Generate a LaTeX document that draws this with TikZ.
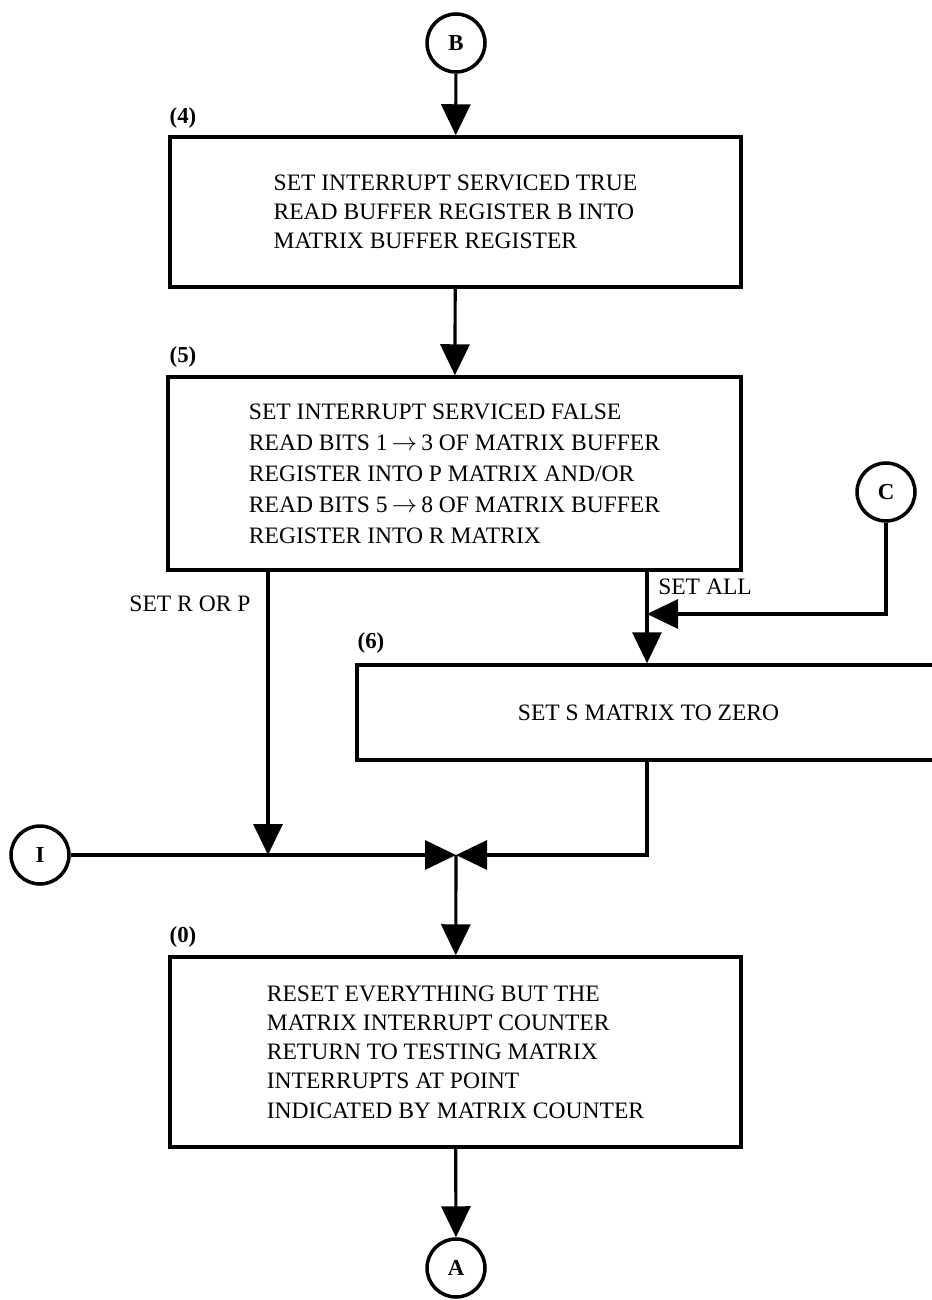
\documentclass[tikz,border=0pt]{standalone}
\usepackage{fontspec}
\setmainfont{Liberation Serif}
\usetikzlibrary{arrows.meta,positioning}
\begin{document}
\begin{tikzpicture}[x=0.02cm, y=-0.02cm,
		>={Triangle[length=0.62cm,width=0.58cm]},
		every node/.style={font=\fontsize{13.4}{16.6}\selectfont},
		box/.style={draw, line width=2pt, align=left, inner sep=0pt},
		conn/.style={->, line width=1.8pt},
		onpage/.style={draw, circle, line width=2pt, minimum size=1.16cm, inner sep=0pt,
			font=\bfseries\fontsize{13}{15}\selectfont},
		num/.style={font=\bfseries\fontsize{13}{15}\selectfont}]

	\useasboundingbox (0,0) rectangle (931,1300);

	% Connectors
	\node[onpage] (B) at (456,43) {B};
	\node[onpage] (C) at (886,492) {C};
	\node[onpage] (I) at (40,855) {I};
	\node[onpage] (A) at (456,1268) {A};

	% Blocks
	\node[box, minimum width=11.42cm, minimum height=3cm] (b4) at (455.5,212) {%
		SET INTERRUPT SERVICED TRUE\\
		READ BUFFER REGISTER B INTO\\
		MATRIX BUFFER REGISTER};
	\node[box, minimum width=11.46cm, minimum height=3.86cm,
		font=\fontsize{13.4}{17.6}\selectfont] (b5) at (454.5,473.5) {%
		SET INTERRUPT SERVICED FALSE\\
		READ BITS 1$\,\to\,$3 OF MATRIX BUFFER\\
		REGISTER INTO P MATRIX AND/OR\\
		READ BITS 5$\,\to\,$8 OF MATRIX BUFFER\\
		REGISTER INTO R MATRIX};
	\node[box, minimum width=11.66cm, minimum height=1.9cm] (b6) at (648.5,712.5) {SET S MATRIX TO ZERO};
	\node[box, minimum width=11.42cm, minimum height=3.8cm] (b0) at (455.5,1052) {%
		RESET EVERYTHING BUT THE\\
		MATRIX INTERRUPT COUNTER\\
		RETURN TO TESTING MATRIX\\
		INTERRUPTS AT POINT\\
		INDICATED BY MATRIX COUNTER};

	% Numbers
	\node[num] (n4) at (183,118) {(4)};
	\node[num] (n5) at (183,357) {(5)};
	\node[num] (n6) at (371,643) {(6)};
	\node[num] (n0) at (183,937) {(0)};

	\node (lrp) at (190,604) {SET R OR P};
	\node (lall) at (705,587) {SET ALL};

	% Junctions
	\coordinate (m1) at (268,855);
	\coordinate (m0) at (456,855);
	\coordinate (j6) at (647,614);

	\draw[conn] (B) -- (b4);
	\draw[conn] (b4) -- (b5);
	\draw[conn] (b5.south -| m1) -- (m1);
	\draw[conn] (b5.south -| j6) -- (b6.north -| j6);
	\draw[conn] (C) |- (j6);
	\draw[conn] (b6.south -| j6) |- (m0);
	\draw[conn] (I) -- (m0);
	\draw[conn] (m0) -- (b0);
	\draw[conn] (b0) -- (A);
\end{tikzpicture}
\end{document}
